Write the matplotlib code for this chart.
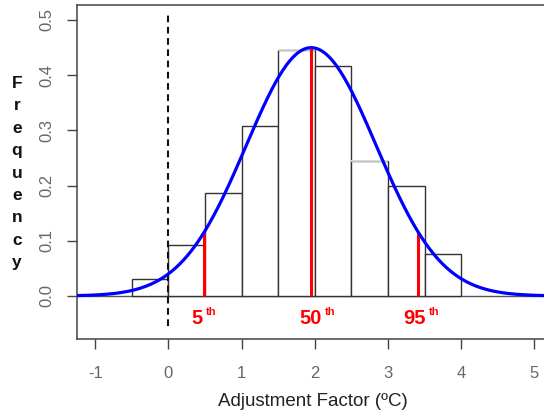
import matplotlib
matplotlib.use('agg')

import matplotlib.pyplot as plt
import numpy as np

plt.rcParams['font.family'] = ['Liberation Sans', 'DejaVu Sans']

# histogram of adjustment factors (bin width 0.5)
bin_left = [-0.5, 0.0, 0.5, 1.0, 1.5, 2.0, 2.5, 3.0, 3.5]
bin_height = [0.030, 0.093, 0.186, 0.307, 0.446, 0.417, 0.245, 0.200, 0.076]
bin_width = 0.5

# fitted normal curve
fit_mean = 1.95
fit_sd = 0.887

# percentiles marked in red
pct_names = ['5', '50', '95']
pct_values = [0.49, 1.95, 3.41]
pct_label_x = [0.39, 1.94, 3.36]

xticks = [-1, 0, 1, 2, 3, 4, 5]
yticks = [0.0, 0.1, 0.2, 0.3, 0.4, 0.5]


def normal_pdf(x):
    return np.exp(-0.5 * ((x - fit_mean) / fit_sd) ** 2) / (fit_sd * np.sqrt(2 * np.pi))


fig = plt.figure(figsize=(5.44, 4.17), dpi=100)
ax = fig.add_axes([0.1415, 0.187, 0.8746, 0.801])
ax.set_xlim(-1.25, 5.25)
ax.set_ylim(-0.078, 0.527)

ax.axhline(0, color='#555555', lw=1.0, zorder=1)

ax.bar(bin_left, bin_height, width=bin_width, align='edge',
       facecolor='white', edgecolor='#333333', linewidth=1.0, zorder=2)
# a couple of bar tops render faint in the original
for i in (4, 6):
    ax.plot([bin_left[i], bin_left[i] + bin_width], [bin_height[i]] * 2,
            color='#d8d8d8', lw=1.3, zorder=2.5, solid_capstyle='butt')

ax.plot([0, 0], [-0.054, 0.513], color='#111111', lw=1.5,
        dashes=(3.2, 2.2), zorder=3)

for name, v, lx in zip(pct_names, pct_values, pct_label_x):
    ax.plot([v, v], [0, normal_pdf(v)], color='#ff0000', lw=2.2,
            zorder=4, solid_capstyle='butt')
    t = ax.text(lx, -0.040, name, color='#ff0000', fontsize=14.5,
                fontweight='bold', ha='center', va='center', zorder=5)
    ax.annotate('th', xy=(1, 1), xycoords=t, xytext=(2.5, 1),
                textcoords='offset points', color='#ff0000', fontsize=8,
                fontweight='bold', ha='left', va='top')

xs = np.linspace(-1.3, 5.3, 400)
ax.plot(xs, normal_pdf(xs), color='#0000ff', lw=2.3, zorder=6)

for s in ax.spines.values():
    s.set_color('#444444')
    s.set_linewidth(1.1)

ax.set_xticks(xticks)
ax.set_xticklabels(['-1', '0', '1', '2', '3', '4', '5'])
ax.set_yticks(yticks)
ax.set_yticklabels(['0.0', '0.1', '0.2', '0.3', '0.4', '0.5'],
                   rotation=90, va='center')
ax.tick_params(axis='both', length=7.5, width=1.0, color='#444444',
               labelcolor='#666666', labelsize=12)
ax.tick_params(axis='x', pad=12)
ax.tick_params(axis='y', pad=9)

fig.text(313 / 544, 1 - 402 / 417, 'Adjustment Factor (\u00baC)',
         fontsize=13.5, color='#222222', ha='center', va='center')
fig.text(17 / 544, 1 - 173 / 417, '\n'.join('Frequency'), fontsize=12.5,
         fontweight='bold', ha='center', va='center', linespacing=1.62,
         color='#111111')

fig.savefig('out.png', dpi=100)
